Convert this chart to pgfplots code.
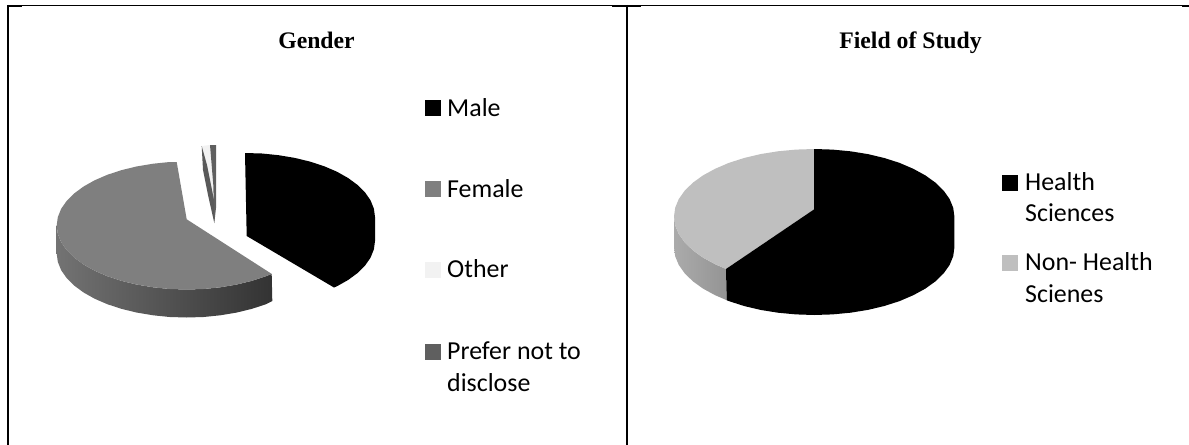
\documentclass[border=0pt]{standalone}
\usepackage{pgfplots}
\pgfplotsset{compat=1.18}
\usepackage{fontspec}
\setmainfont{Carlito}
\newfontfamily\titlefont{Liberation Serif}
\definecolor{femalegray}{HTML}{7F7F7F}
\definecolor{lightgray2}{HTML}{BFBFBF}
\definecolor{othergray}{HTML}{F2F2F2}
\definecolor{prefergray}{HTML}{5F5F5F}
\begin{document}
\begin{tikzpicture}
\useasboundingbox (0,0) rectangle (1189bp,445bp);
\begin{axis}[
    at={(0,0)},
    anchor=south west,
    scale only axis,
    width=1189bp,
    height=445bp,
    xmin=0, xmax=1189,
    ymin=0, ymax=445,
    y dir=reverse,
    hide axis,
    clip=true,
    swatch/.style={only marks, mark=square*, mark size=7.5bp, line width=0pt, color=#1, mark options={draw=#1, fill=#1}},
]
% table borders
\addplot[black, line width=1bp] coordinates {(7,5.5) (1189,5.5)};
\addplot[black, line width=2bp] coordinates {(8,5) (8,445)};
\addplot[black, line width=2bp] coordinates {(626.7,5) (626.7,445)};
\addplot[black, line width=2bp] coordinates {(7,6) (22,6)};
\addplot[black, line width=2bp] coordinates {(612,6) (641,6)};
\addplot[black, line width=2bp] coordinates {(1182,6) (1189,6)};

% gender pie: female side, female top, male, slivers
\addplot[draw=none, left color=black!55, middle color=black!68, right color=black!80] coordinates {
    (56.7,225.5) (57.8,233.85) (61.1,242.1) (66.6,250) (74.1,257.5) (83.6,264.5) (94.8,270.8) (107.6,276.3)
    (121.7,280.9) (136.9,284.6) (153.1,287.3) (169.7,289) (186.7,289.5) (203.7,289) (220.3,287.3) (236.5,284.6)
    (251.7,280.9) (265.8,276.3) (271.7,273.9) (272.3,301) (265.8,304.3) (251.7,308.9) (236.5,312.6) (220.3,315.3)
    (203.7,317) (186.7,317.5) (169.7,317) (153.1,315.3) (136.9,312.6) (121.7,308.9) (107.6,304.3) (94.8,298.8)
    (83.6,292.5) (74.1,285.5) (66.6,278) (61.1,270.1) (57.8,261.85) (56.7,253.5)
} -- cycle;
\addplot[draw=none, fill=femalegray] coordinates {
    (186.7,219.3) (176.7,162) (169.7,162) (153.1,163.7) (136.9,166.4) (121.7,170.1) (107.6,174.7) (94.8,180.2)
    (83.6,186.5) (74.1,193.5) (66.6,201) (61.1,208.9) (57.8,217.15) (56.7,225.5) (57.8,233.85) (61.1,242.1)
    (66.6,250) (74.1,257.5) (83.6,264.5) (94.8,270.8) (107.6,276.3) (121.7,280.9) (136.9,284.6) (153.1,287.3)
    (169.7,289) (186.7,289.5) (203.7,289) (220.3,287.3) (236.5,284.6) (251.7,280.9) (265.8,276.3) (271.7,273.9)
} -- cycle;
\addplot[draw=none, fill=black] coordinates {
    (246.7,236) (245,153) (262,153.5) (278.6,155.2) (294.8,157.9) (310,161.6) (324.1,166.2) (336.9,171.7)
    (348.1,178) (357.6,185) (365.1,192.5) (370.6,200.4) (373.9,208.65) (375,217) (375,241) (373.9,249.35)
    (370.6,257.6) (365.1,265.5) (357.6,273) (348.1,280) (336.9,286.3) (334,287.5)
} -- cycle;
\addplot[draw=none, fill=othergray] coordinates {(201.7,146) (210,145) (213.3,185) (214,200)} -- cycle;
\addplot[draw=none, fill=black!65] coordinates {(201.7,146) (203,170) (208,195) (214.3,223) (214,200) (207,165)} -- cycle;
\addplot[draw=none, fill=prefergray] coordinates {(210,145) (216,145) (216,208) (214.3,223) (213.3,185)} -- cycle;

% field of study pie
\addplot[draw=none, left color=black!33, right color=black!42] coordinates {
    (674,216.5) (675.2,225.3) (678.8,234) (684.7,242.3) (692.8,250.25) (703,257.6) (715.1,264.2) (726,269)
    (726.7,300.2) (715.1,295.2) (703,288.6) (692.8,281.25) (684.7,273.3) (678.8,265) (675.2,256.3) (674,247.5)
} -- cycle;
\addplot[draw=none, fill=lightgray2] coordinates {
    (814.2,209.3) (726,269) (715.1,264.2) (703,257.6) (692.8,250.25) (684.7,242.3) (678.8,234) (675.2,225.3)
    (674,216.5) (675.2,207.7) (678.8,199) (684.7,190.7) (692.8,182.75) (703,175.4) (715.1,168.8) (728.8,162.9)
    (744.1,158) (760.5,154.1) (777.9,151.3) (795.9,149.6) (814.2,149)
} -- cycle;
\addplot[draw=none, fill=black] coordinates {
    (814.2,209.3) (814.2,149) (832.5,149.6) (850.5,151.3) (867.9,154.1) (884.3,158) (899.6,162.9) (913.3,168.8)
    (925.4,175.4) (935.6,182.75) (943.7,190.7) (949.6,199) (953.2,207.7) (954.4,216.5) (954.4,247.5) (953.2,256.3)
    (949.6,265) (943.7,273.3) (935.6,281.25) (925.4,288.6) (913.3,295.2) (899.6,301.1) (884.3,306) (867.9,309.9)
    (850.5,312.7) (832.5,314.4) (814.2,315) (795.9,314.4) (777.9,312.7) (760.5,309.9) (744.1,306) (728.8,301.1)
    (726.7,300.2) (726,269)
} -- cycle;

% legend swatches
\addplot[swatch=black] coordinates {(432.5,108.5)};
\addplot[swatch=femalegray] coordinates {(432.5,189.3)};
\addplot[swatch=othergray] coordinates {(432.5,269.7)};
\addplot[swatch=prefergray] coordinates {(432.5,352)};
\addplot[swatch=black] coordinates {(1009.7,183)};
\addplot[swatch=lightgray2] coordinates {(1009.7,262.5)};

% texts
\tikzset{
    ttl/.style={anchor=base, inner sep=0pt, font={\titlefont\bfseries\fontsize{23.8}{28}\selectfont}},
    leg/.style={anchor=base west, inner sep=0pt, font=\fontsize{26}{31}\selectfont},
}
\node[ttl] at (axis cs:316.5,49) {Gender};
\node[ttl] at (axis cs:910.5,49) {Field of Study};
\node[leg] at (axis cs:447,116) {Male};
\node[leg] at (axis cs:447,197) {Female};
\node[leg] at (axis cs:447,277.3) {Other};
\node[leg] at (axis cs:447,359.5) {Prefer not to};
\node[leg] at (axis cs:447,391) {disclose};
\node[leg] at (axis cs:1025,190) {Health};
\node[leg] at (axis cs:1025,221.7) {Sciences};
\node[leg] at (axis cs:1025,270) {Non- Health};
\node[leg] at (axis cs:1025,302.7) {Scienes};
\end{axis}
\end{tikzpicture}
\end{document}
